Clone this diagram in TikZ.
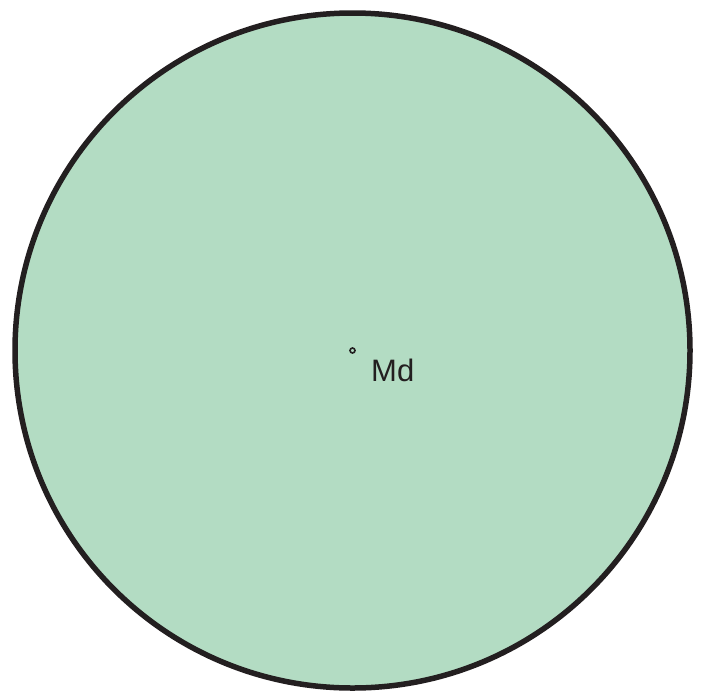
\documentclass[tikz,border=0pt]{standalone}
\usepackage{fontspec}
\setmainfont{Liberation Sans}
\usepackage{tikz}
\definecolor{diskgreen}{HTML}{B3DCC3}
\definecolor{rimblack}{HTML}{231F20}

\begin{document}
\begin{tikzpicture}[x=1pt, y=-1pt]
  % Page size
  \useasboundingbox (0,0) rectangle (703,691);

  % Parameters
  \def\cx{352.5}
  \def\cy{350.5}
  \def\rad{337.5}

  % Disk
  \filldraw[fill=diskgreen, draw=rimblack, line width=5.5pt] (\cx,\cy) circle (\rad);

  % Centre point and label
  \coordinate (centre) at (\cx,\cy);
  \draw[rimblack, line width=1.6pt] (centre) circle (2.5);
  \node[anchor=base west, inner sep=0pt, text=rimblack, font=\fontsize{31}{31}\selectfont] (lbl) at (371,381.5) {Md};

\end{tikzpicture}
\end{document}
